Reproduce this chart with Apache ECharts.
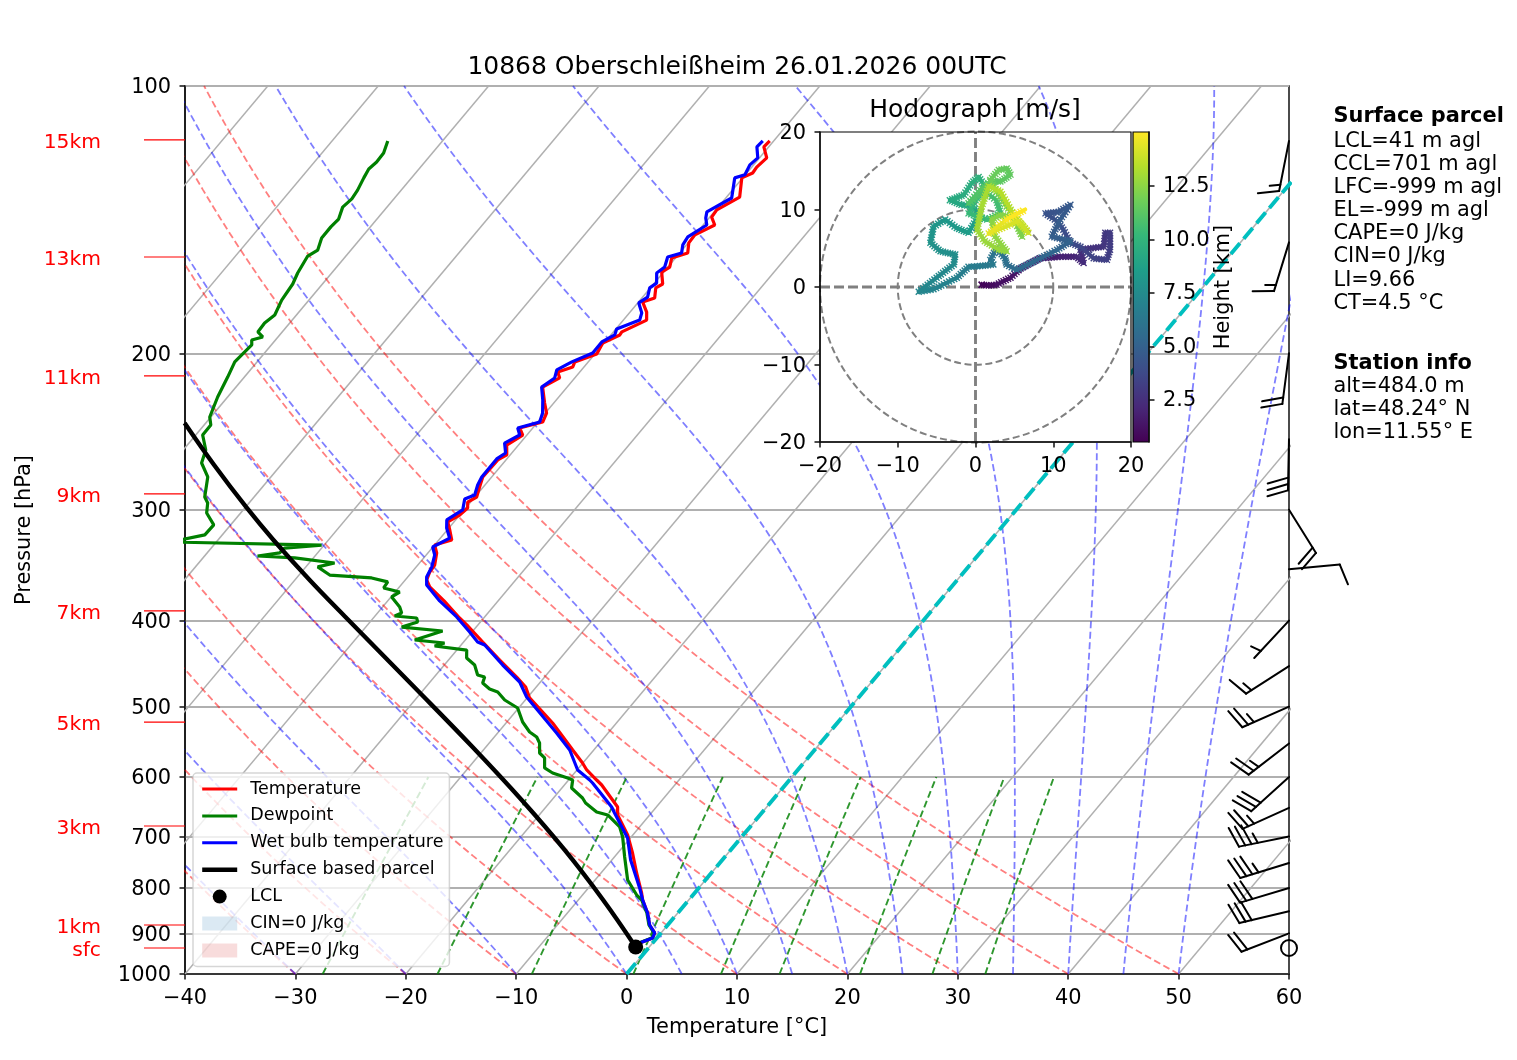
<!DOCTYPE html>
<html><head><meta charset="utf-8">
<style>html,body{margin:0;padding:0;background:#fff}#c{width:1517px;height:1060px}</style>
<script src="https://cdn.jsdelivr.net/npm/echarts@6/dist/echarts.min.js"></script>
</head><body><div id="c"></div>
<script>
const FONT='"DejaVu Sans"';
const titleText='10868 Oberschleißheim 26.01.2026 00UTC';
const pressureTicks=[100,200,300,400,500,600,700,800,900,1000];
const altLabels=['15km','13km','11km','9km','7km','5km','3km','1km','sfc'];
const altP=[115,155.8,212.1,288,390.1,520.3,681.3,880.7,934.8];
const isotherms=[-100,-90,-80,-70,-60,-50,-40,-30,-20,-10,10,20,30,40,50];
const dryThetas=[-30,-20,-10,0,10,20,30,40,50];
const moistStarts=[-30,-20,-10,0,5,10,15,20,25,30,35,40,45,50];
const mixRatios=[0.0004,0.001,0.002,0.004,0.007,0.01,0.016,0.024,0.032];

const tempP=[934.8,922.7,910.9,899,880.7,853.7,825.4,810.5,769.6,730.7,697.4,662.1,648.5,612.6,604.7,589.2,578.6,559.4,521.6,488.8,475.1,463,443,422.8,404.5,397.3,380,366.6,360,352.6,346.3,335.6,328.8,324.5,316.2,309.7,304.2,298.7,294.1,290.3,282.9,275.6,263.7,260.3,253.7,247.2,242.7,239,233.5,227.5,218.3,213.2,209.9,207.2,204.5,200.3,194.7,190.7,189.2,183.5,179.7,175.1,173.3,168.8,167.1,162,159.9,156.2,154.2,150.2,147.1,143.4,140.5,137.9,133.4,126.9,125.3,123.4,120.5,117.1,115.3];
const tempT=[-1.34,-1.18,-0.38,-0.58,-1.64,-2.74,-4.17,-4.8,-6.77,-8.66,-10.47,-12.9,-13.51,-16.62,-17.46,-19.12,-20.03,-21.91,-25.78,-29.77,-30.96,-32.53,-35.36,-38.27,-41.01,-42.19,-44.9,-47.25,-48.06,-48.39,-48.47,-49.21,-49.99,-48.83,-49.77,-50.56,-50.01,-49.82,-50.27,-49.84,-50.33,-50.81,-50.74,-50.31,-51.07,-50.38,-51.19,-49.56,-49.89,-50.83,-52.22,-51.37,-52,-51.02,-51.22,-49.84,-50.13,-49.19,-49.24,-47.89,-48.5,-49.62,-48.84,-49.51,-49.18,-50.18,-49.83,-50.34,-49.27,-49.94,-50,-48.95,-49.83,-49.91,-48.81,-50.08,-49.47,-49.55,-49.34,-50.44,-50.36];

const wetP=[934.8,922.7,910.9,899,880.7,853.7,825.4,800,744.1,702.8,658.7,648.5,609.4,604.7,589.2,559.4,535.3,487.6,469,448.8,426.1,422.8,412,396.2,380.1,364.7,357.2,348,337.4,330.5,322.9,314.6,308.1,300.2,291.8,288.8,281.4,275.6,263,259,252.4,247.2,242.7,239,233.5,225.7,218.3,213.2,208.8,204.5,199.8,194.2,190.7,187.8,183.5,180.1,175.5,172.9,168.8,166.7,162.4,159.9,155.8,154.2,151,147.9,143.4,140.8,138.6,133.7,126.9,125.9,122.7,120.5,117.1,115.3];
const wetT=[-1.34,-1.18,-0.38,-0.58,-1.64,-2.74,-4.17,-5.36,-8.3,-10.25,-13.33,-14.05,-17.6,-18.09,-19.94,-22.18,-24.66,-30.11,-31.88,-34.71,-37.86,-38.73,-40.21,-42.53,-45.29,-47.68,-48.29,-48.59,-49.23,-50.02,-49.17,-50.2,-50.8,-50.12,-50.77,-50.17,-50.66,-50.9,-50.92,-50.56,-51.41,-50.65,-51.37,-49.83,-50.25,-51.23,-52.31,-51.82,-52.24,-51.49,-50.28,-50.29,-49.65,-49.93,-48.52,-48.88,-49.91,-49.55,-50.06,-49.8,-50.56,-50.29,-50.78,-49.82,-50.33,-50.48,-49.67,-50.3,-50.66,-49.47,-50.72,-50.03,-50.34,-50.15,-51.07,-50.99];

const dewP=[934.8,922.7,910.9,899,880.7,853.7,825.4,814.8,783.7,738.3,701,683,662.1,657,641.9,633.6,617.4,604.7,601.6,593.8,586.1,571.1,563.8,549.4,540.9,533.9,520.3,501.7,491.4,481.3,477.6,470.2,463,460.6,448.8,440.7,431.7,427.2,423.9,420.6,410.9,406.7,401.4,397.3,395.2,392.1,386.1,376.2,371.4,367.5,361.8,358.1,355.4,348,344.5,340,338.3,335.6,331.4,328.8,326.2,320.3,312.1,302.6,294.8,290.3,275.6,265.8,257,247.2,240.8,235.9,224,212.7,204.5,199.8,195.7,193.2,191.7,189.2,184.9,181.1,174.2,167.1,162.4,155.4,153,148.3,144.1,141.2,136.9,134,131,126.9,124,121.8,119,115.3];
const dewT=[-1.4,-1.24,-0.45,-0.65,-1.7,-2.8,-4.26,-5.09,-7.05,-9.07,-10.77,-11.8,-13.8,-15.03,-16.71,-17.37,-19.12,-19.63,-20.24,-21.98,-23.09,-23.85,-24.68,-25.44,-26.16,-27.18,-28.57,-30.09,-31.87,-33.11,-34.07,-35.16,-35.43,-36.22,-37.25,-38.51,-39.11,-42.32,-41.65,-44.58,-42.74,-46.75,-45.68,-46.08,-48.22,-47.82,-48.45,-49.94,-49.59,-51.35,-51.44,-53.2,-57.22,-58.92,-57.69,-61.69,-65.2,-63.43,-63.36,-60.23,-74.23,-71.58,-71.53,-73.08,-73.75,-74.47,-75.72,-77.34,-77.95,-79.37,-79.4,-80.1,-80.9,-81.51,-82.02,-81.89,-81.77,-82.15,-81.38,-82.21,-82.27,-81.96,-82.47,-82.69,-83.08,-83.46,-83.01,-83.57,-83.58,-83.47,-84.01,-83.81,-83.95,-84.32,-84.55,-84.36,-84.41,-84.96];

const parcelP=[932.4,825.4,725,636.9,553.7,473.9,395.2,360,324.5,297.9,267.2,239.6];
const parcelT=[-1.23,-7.75,-15.04,-22.73,-31.37,-41.22,-52.77,-58.66,-64.98,-69.97,-76.05,-81.92];
const lclP=[932.4];
const lclT=[-1.23];

const windP=[115.3,150,200,250,300,350,400,450,500,550,600,650,700,750,800,850,900,934.8];
const windU=[2.9,4.4,2.6,0.6,-10.6,-10,3.4,12.6,22.9,19.8,22.2,22.8,34.3,33.5,28.7,29.1,18.7,0];
const windV=[14.7,14.3,19.8,30,17,-0.9,3.65,8.1,10.1,15.3,20.1,10.3,7,10.3,8.6,6.9,7.2,0];

const hodoU=[0.8,1.7,2.7,4.5,5.8,8.3,10.9,13,13.9,13.5,14.8,16.5,16.7,17.3,17.3,16.9,15.2,13.5,12.2,11.3,10.5,9,10.7,12.2,10.9,9.8,12.2,10.5,7.5,5.3,4,3.8,2.7,1.9,2.3,0.6,-0.9,-2.4,-5.4,-7.3,-5,-2.8,-2.6,-4.5,-5.8,-5.4,-3.9,-2.4,-0.9,0,0.8,-0.3,-1.8,-3.3,-1.5,-0.5,0.4,1.2,0,-0.9,1.5,3.2,2.7,1.2,-0.9,0.6,1.9,3.2,4.5,4,3,1.9,2.7,4,5.3,6,4.9,3.2,2.1,2.5,4,3,1.2,0.2,0.8,1.7,3.2,4.9,6.8,5.5,1.7,4,6.4];
const hodoV=[0.3,0.2,0.3,1.2,2.4,3.7,3.9,3.9,3.1,4.8,5,5.2,7,7,4.8,3.5,3.7,5.2,5.7,7.4,8.5,9.5,9.7,10.6,8.7,6.5,5.9,4.8,3.3,2.2,2.9,3.7,5,3.5,2.9,2.7,2.6,1.2,-0.3,-0.6,1.2,2.9,4.2,4.6,5.7,7.8,8.7,7.6,7,8.5,8.9,10.4,10.6,11.2,11.9,13.4,14.2,13,11.2,9.5,8.7,9.5,11.2,12.3,10.8,12.5,13.6,13.6,14.5,15.3,15.1,13.8,12.3,10.4,8.7,6.5,8.9,9.3,8.7,6.5,4.6,4.8,5.9,7.4,10.4,13,12.3,9.3,7,8.5,6.9,8.7,10];
const hodoH=[0.55,0.8,1,1.2,1.4,1.6,1.8,2,2.2,2.4,2.55,2.7,2.85,2.95,3.1,3.2,3.35,3.5,3.7,3.85,4,4.15,4.3,4.45,4.6,4.75,4.9,5.1,5.3,5.5,5.7,5.85,6,6.15,6.3,6.45,6.6,6.75,6.95,7.1,7.25,7.4,7.55,7.7,7.85,8,8.15,8.3,8.45,8.6,8.75,8.9,9.05,9.2,9.35,9.5,9.65,9.8,9.95,10.1,10.25,10.4,10.55,10.7,10.85,11,11.15,11.25,11.35,11.45,11.55,11.65,11.75,11.85,11.95,12.05,12.15,12.25,12.35,12.45,12.55,12.65,12.75,12.85,12.95,13.1,13.25,13.4,13.6,13.9,14.2,14.5,15];
const hodoRings=[10,20];
const heightTicks=[2.5,5,7.5,10,12.5];
const viridis=['#440154','#482878','#3e4a89','#31688e','#26828e','#1f9e89','#35b779','#6ece58','#b5de2b','#fde725'];
const parcelInfo=['LCL=41 m agl','CCL=701 m agl','LFC=-999 m agl','EL=-999 m agl','CAPE=0 J/kg','CIN=0 J/kg','LI=9.66','CT=4.5 °C'];
const stationInfo=['alt=484.0 m','lat=48.24° N','lon=11.55° E'];

const SKEW=67.5, HMIN=0.54, HMAX=15.02, FS=20.9;
const sx=(T,p)=>T+SKEW*Math.log10(1000/p);
const prof=(P,T)=>P.map((p,i)=>[sx(T[i],p),p]);
const minus=v=>String(v).replace('-','\u2212');

// thermodynamic background levels (1000 -> 100 hPa)
const levels=[];for(let i=0;i<=60;i++)levels.push(1000*Math.pow(10,-i/60));
const es=t=>6.112*Math.exp(17.67*t/(t+243.5));
function moistLine(t0){
  const out=[];let T=t0+273.15;
  for(let i=0;i<levels.length;i++){
    out.push([sx(T-273.15,levels[i]),levels[i]]);
    if(i<levels.length-1){
      const dl=Math.log(levels[i+1]/levels[i]),n=8;
      for(let k=0;k<n;k++){
        const p=levels[i]*Math.exp(dl*k/n);
        const e=es(T-273.15),rs=0.622*e/(p-e),Lv=2.501e6,Rd=287.05,cp=1005;
        const g=(Rd*T+Lv*rs)/(cp+Lv*Lv*rs*0.622/(Rd*T*T));
        T+=g*dl/n;
      }
    }
  }
  return out;
}
const dryLine=th=>levels.map(p=>[sx((th+273.15)*Math.pow(p/1000,0.2857)-273.15,p),p]);
const mixLevels=[];for(let i=0;i<=20;i++)mixLevels.push(1000*Math.pow(0.6,i/20));
function mixLine(w){
  return mixLevels.map(p=>{const e=w*p/(0.622+w),l=Math.log(e/6.112);
    return [sx(243.5*l/(17.67-l),p),p];});
}
const lineBase=(data,color,width,type,z)=>({type:'line',data,symbol:'none',silent:true,animation:false,z:z||2,
  lineStyle:{color,width,type:type||'solid',cap:'butt'},itemStyle:{color},xAxisIndex:0,yAxisIndex:0});
const series=[];
isotherms.forEach(t=>series.push(lineBase([[sx(t,1000),1000],[sx(t,100),100]],'#b0b0b0',1.5)));
dryThetas.forEach(t=>series.push(lineBase(dryLine(t),'rgba(255,0,0,0.5)',1.8,[7,3.5])));
moistStarts.forEach(t=>series.push(lineBase(moistLine(t),'rgba(0,0,255,0.5)',1.8,[7,3.5])));
mixRatios.forEach(w=>series.push(lineBase(mixLine(w),'rgba(0,128,0,0.82)',1.9,[7,3.5])));
series.push(lineBase([[sx(0,1000),1000],[sx(0,100),100]],'#b0b0b0',1.5));
series.push(lineBase([[sx(0,1000),1000],[sx(0,100),100]],'#00bfbf',3.9,[14,6],3));
series.push(Object.assign(lineBase(prof(tempP,tempT),'#ff0000',3.2,'solid',4),{name:'Temperature'}));
series.push(Object.assign(lineBase(prof(dewP,dewT),'#008000',3.2,'solid',4),{name:'Dewpoint'}));
series.push(Object.assign(lineBase(prof(wetP,wetT),'#0000ff',3.2,'solid',4),{name:'Wet bulb temperature'}));
series.push(Object.assign(lineBase(prof(parcelP,parcelT),'#000000',4.4,'solid',4),{name:'Surface based parcel',smooth:0.4}));
series.push({type:'scatter',name:'LCL',data:prof(lclP,lclT),symbol:'circle',symbolSize:15,itemStyle:{color:'#000',opacity:1},silent:true,z:4,animation:false});
series.push({type:'scatter',name:'CIN=0 J/kg',data:[],itemStyle:{color:'rgba(31,119,180,0.2)'},silent:true});
series.push({type:'scatter',name:'CAPE=0 J/kg',data:[],itemStyle:{color:'rgba(214,39,40,0.2)'},silent:true});

// altitude labels
series.push({type:'custom',coordinateSystem:'cartesian2d',xAxisIndex:0,yAxisIndex:0,silent:true,animation:false,z:4,
  data:altP.map((p,i)=>[-40,p,i]),encode:{x:0,y:1},
  renderItem(params,api){
    const i=params.dataIndex,c=api.coord([-40,altP[i]]);
    return {type:'group',children:[
      {type:'line',shape:{x1:c[0]-41,y1:c[1],x2:c[0],y2:c[1]},style:{stroke:'#ff0000',lineWidth:1.2}},
      {type:'text',style:{x:c[0]-84,y:c[1]+3,text:altLabels[i],fill:'#ff0000',font:'20.3px '+FONT,align:'right',verticalAlign:'middle'}}
    ]};
  }});

// wind barbs
series.push({type:'custom',coordinateSystem:'cartesian2d',xAxisIndex:0,yAxisIndex:0,silent:true,animation:false,z:6,
  data:windP.map((p,i)=>[60,p,i]),encode:{x:0,y:1},
  renderItem(params,api){
    const i=params.dataIndex,b=api.coord([60,windP[i]]),u=windU[i],v=windV[i];
    const spd=Math.hypot(u,v),st={stroke:'#000',lineWidth:2,fill:null,lineCap:'round'};
    if(spd<2.5)return {type:'circle',shape:{cx:b[0],cy:b[1],r:8},style:st};
    const L=51,dx=-u/spd,dy=v/spd,nx=-dy,ny=dx;
    const ex=b[0]+dx*L,ey=b[1]+dy*L,sp=0.125*L,H=0.4*L,W=0.25*L;
    const s5=Math.round(spd/5)*5;let full=Math.floor(s5/10),half=s5%10>=5,off=0;
    const kids=[{type:'line',shape:{x1:b[0],y1:b[1],x2:ex,y2:ey},style:st}];
    for(let k=0;k<full;k++){
      const px=ex-dx*off,py=ey-dy*off;
      kids.push({type:'line',shape:{x1:px,y1:py,x2:px+nx*H+dx*W/2,y2:py+ny*H+dy*W/2},style:st});off+=sp;
    }
    if(half){
      if(off===0)off=1.5*sp;
      const px=ex-dx*off,py=ey-dy*off;
      kids.push({type:'line',shape:{x1:px,y1:py,x2:px+nx*H/2+dx*W/4,y2:py+ny*H/2+dy*W/4},style:st});
    }
    return {type:'group',children:kids};
  }});

// hodograph
const hodoAxes={xAxisIndex:1,yAxisIndex:1};
series.push(Object.assign({type:'custom',coordinateSystem:'cartesian2d',silent:true,animation:false,z:7,data:[[0,0]],encode:{x:0,y:1},
  renderItem(params,api){const a=api.coord([-20,20]),b=api.coord([20,-20]);
    return {type:'rect',shape:{x:a[0],y:a[1],width:b[0]-a[0],height:b[1]-a[1]},style:{fill:'#fff'}};}},hodoAxes));
series.push(Object.assign({type:'custom',coordinateSystem:'cartesian2d',silent:true,animation:false,z:8,data:hodoRings.map(r=>[r,0]),encode:{x:0,y:1},
  renderItem(params,api){const r=hodoRings[params.dataIndex],c=api.coord([0,0]),e=api.coord([r,0]);
    return {type:'circle',shape:{cx:c[0],cy:c[1],r:e[0]-c[0]},style:{stroke:'#808080',lineWidth:2,fill:null,lineDash:[7,3.5]}};}},hodoAxes));
[[[-20,0],[20,0]],[[0,-20],[0,20]]].forEach(d=>series.push(Object.assign({type:'line',data:d,symbol:'none',silent:true,animation:false,z:8,
  lineStyle:{color:'#808080',width:2.9,type:[10,4]}},hodoAxes)));
function vir(h){
  const t=Math.max(0,Math.min(1,(h-HMIN)/(HMAX-HMIN)))*(viridis.length-1),i=Math.min(viridis.length-2,Math.floor(t)),f=t-i;
  const c=s=>[1,3,5].map(k=>parseInt(s.substr(k,2),16)),a=c(viridis[i]),b=c(viridis[i+1]);
  return 'rgb('+a.map((x,k)=>Math.round(x+(b[k]-x)*f)).join(',')+')';
}
series.push(Object.assign({type:'custom',coordinateSystem:'cartesian2d',silent:true,animation:false,z:9,
  data:hodoU.map((u,i)=>[u,hodoV[i],hodoH[i]]),encode:{x:0,y:1},
  renderItem(params,api){
    const i=params.dataIndex,b=api.coord([hodoU[i],hodoV[i]]),a=i?api.coord([hodoU[i-1],hodoV[i-1]]):b;
    const col=vir(hodoH[i]),kids=[];
    kids.push({type:'line',shape:{x1:a[0],y1:a[1],x2:b[0],y2:b[1]},style:{stroke:col,lineWidth:4,lineCap:'round'}});
    const len=Math.hypot(b[0]-a[0],b[1]-a[1]),n=Math.max(1,Math.ceil(len/3));
    for(let k=0;k<n;k++){
      const x=a[0]+(b[0]-a[0])*k/n,y=a[1]+(b[1]-a[1])*k/n,m=3;
      kids.push({type:'line',shape:{x1:x-m,y1:y-m,x2:x+m,y2:y+m},style:{stroke:col,lineWidth:1.4}});
      kids.push({type:'line',shape:{x1:x-m,y1:y+m,x2:x+m,y2:y-m},style:{stroke:col,lineWidth:1.4}});
    }
    return {type:'group',children:kids};
  }},hodoAxes));
// colour bar
series.push({type:'bar',xAxisIndex:2,yAxisIndex:2,data:[HMAX],barWidth:'100%',silent:true,animation:false,z:7,
  itemStyle:{color:{type:'linear',x:0,y:1,x2:0,y2:0,colorStops:viridis.map((c,i)=>({offset:i/(viridis.length-1),color:c}))}}});

const axisTxt={color:'#000',fontFamily:FONT,fontSize:FS};
const blackLine={show:true,onZero:false,lineStyle:{color:'#111',width:1.5}};
const tick={show:true,length:5.5,lineStyle:{color:'#111',width:1.5}};
const graphicTexts=[];
const txt=(s,y,bold)=>graphicTexts.push({type:'text',left:1333.5,top:y-9,z:20,silent:true,style:{text:s,fill:'#000',font:(bold?'bold ':'')+FS+'px '+FONT}});
txt('Surface parcel',115,true);parcelInfo.forEach((s,i)=>txt(s,140+i*23.1));
txt('Station info',362,true);stationInfo.forEach((s,i)=>txt(s,385+i*23));
const hide={color:'transparent',opacity:0,borderWidth:0};
const legendLine=(name,w)=>({name,itemStyle:hide,lineStyle:{width:w}});
const yLabelShift={verticalAlign:'top',lineHeight:4};

const chart=echarts.init(document.getElementById('c'),null,{width:1517,height:1060});
chart.setOption({
  animation:false,backgroundColor:'#fff',textStyle:{fontFamily:FONT},
  title:[
    {text:titleText,left:737,top:55,textAlign:'center',padding:0,textStyle:{color:'#000',fontFamily:FONT,fontSize:25,fontWeight:'normal'},z:20},
    {text:'Hodograph [m/s]',left:975,top:98,textAlign:'center',padding:0,textStyle:{color:'#000',fontFamily:FONT,fontSize:25,fontWeight:'normal'},z:20}
  ],
  grid:[
    {left:185,top:86,width:1104,height:888,show:true,borderColor:'#111',borderWidth:1.5,backgroundColor:'#fff'},
    {left:820,top:132,width:311,height:310,show:true,borderColor:'#000',borderWidth:1.2,backgroundColor:'transparent',z:10},
    {left:1133,top:132,width:16,height:310,show:true,borderColor:'#000',borderWidth:1.2,backgroundColor:'transparent',z:10}
  ],
  xAxis:[
    {type:'value',gridIndex:0,min:-40,max:60,interval:10,name:'Temperature [°C]',nameLocation:'middle',nameGap:43,
     nameTextStyle:axisTxt,axisLine:blackLine,axisTick:tick,splitLine:{show:false},
     axisLabel:Object.assign({margin:14,formatter:minus},axisTxt)},
    {type:'value',gridIndex:1,min:-20,max:20,interval:10,z:10,axisLine:blackLine,axisTick:tick,splitLine:{show:false},
     axisLabel:Object.assign({margin:14,formatter:minus,showMinLabel:true,showMaxLabel:true},axisTxt)},
    {type:'category',gridIndex:2,data:['h'],show:false}
  ],
  yAxis:[
    {type:'log',logBase:10,gridIndex:0,min:100,max:1000,inverse:true,name:'Pressure [hPa]',nameLocation:'middle',nameGap:150,nameRotate:90,
     nameTextStyle:axisTxt,axisLine:blackLine,
     axisTick:Object.assign({customValues:pressureTicks},tick),minorTick:{show:false},minorSplitLine:{show:false},
     splitLine:{show:true,lineStyle:{color:'#b0b0b0',width:1.9}},
     axisLabel:Object.assign({margin:14,customValues:pressureTicks,formatter:v=>String(Math.round(v))},axisTxt,yLabelShift)},
    {type:'value',gridIndex:1,min:-20,max:20,interval:10,z:10,axisLine:blackLine,axisTick:tick,splitLine:{show:false},
     axisLabel:Object.assign({margin:14,formatter:minus},axisTxt,yLabelShift)},
    {type:'value',gridIndex:2,min:HMIN,max:HMAX,position:'right',z:10,name:'Height [km]',nameLocation:'middle',nameGap:53,nameRotate:90,
     nameTextStyle:axisTxt,axisLine:blackLine,splitLine:{show:false},
     axisTick:Object.assign({customValues:heightTicks},tick),
     axisLabel:Object.assign({margin:14,customValues:heightTicks,formatter:v=>Number(v).toFixed(1)},axisTxt,{verticalAlign:'top',lineHeight:2})}
  ],
  legend:{left:193,top:773,orient:'vertical',z:12,itemWidth:35,itemHeight:14,itemGap:8.9,padding:[7,6,7,7],
    backgroundColor:'rgba(255,255,255,0.8)',borderColor:'rgba(204,204,204,0.8)',borderWidth:1.5,borderRadius:4,selectedMode:false,
    textStyle:{color:'#000',fontFamily:FONT,fontSize:17.5,padding:[0,0,0,8]},
    data:[legendLine('Temperature',3),legendLine('Dewpoint',3),legendLine('Wet bulb temperature',3),legendLine('Surface based parcel',4.4),
      {name:'LCL',icon:'circle'},{name:'CIN=0 J/kg',icon:'rect'},{name:'CAPE=0 J/kg',icon:'rect'}]},
  graphic:graphicTexts,
  series
});
</script></body></html>
